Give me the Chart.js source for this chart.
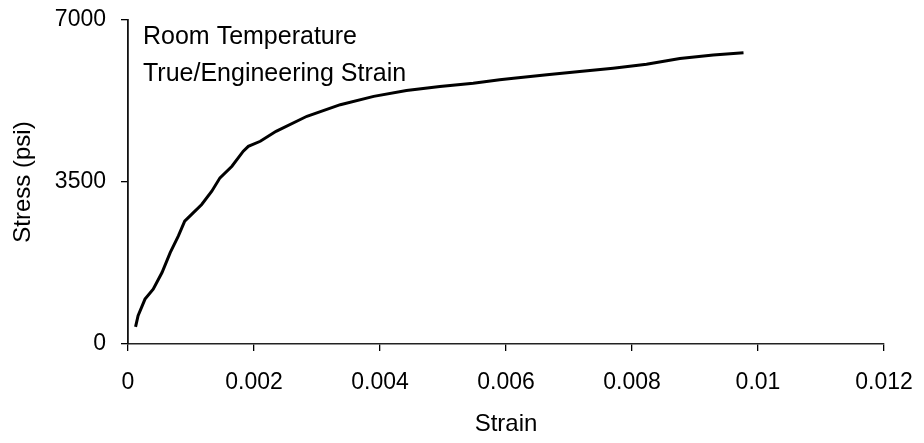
<!DOCTYPE html>
<html>
<head>
<meta charset="utf-8">
<title>Stress vs Strain</title>
<script src="https://cdn.jsdelivr.net/npm/chart.js@4.4.0/dist/chart.umd.min.js"></script>
<style>
  html, body { margin: 0; padding: 0; background: #fff; }
  #wrap { width: 924px; height: 443px; }
</style>
</head>
<body>
<div id="wrap"><canvas id="stressChart" width="924" height="443"></canvas></div>
<script>
// data
const strain = [0.00012, 0.00016, 0.00027, 0.0004, 0.00054, 0.00067, 0.0008, 0.0009,
  0.00101, 0.00117, 0.00133, 0.00146, 0.00165, 0.00183, 0.00191, 0.0021, 0.00235,
  0.00284, 0.00337, 0.0039, 0.00442, 0.00495, 0.00548, 0.0059, 0.00612, 0.00665,
  0.00717, 0.0077, 0.00823, 0.00876, 0.00929, 0.00977];
const stress = [370, 610, 970, 1185, 1545, 1975, 2335, 2655,
  2800, 3015, 3300, 3590, 3840, 4165, 4270, 4380, 4595,
  4920, 5170, 5350, 5475, 5565, 5635, 5710, 5740, 5815,
  5885, 5960, 6045, 6170, 6245, 6295];

const xTicks = [0, 0.002, 0.004, 0.006, 0.008, 0.01, 0.012];
const yTicks = [0, 3500, 7000];
const noteLines = ['Room Temperature', 'True/Engineering Strain'];

const FONT = "'Liberation Sans', Arial, sans-serif";
Chart.defaults.font.family = FONT;
Chart.defaults.color = '#000';

/* text box in the upper left of the plot */
const notePlugin = {
  id: 'note',
  afterDraw(chart) {
    const { ctx, chartArea } = chart;
    ctx.save();
    ctx.font = '25px ' + FONT;
    ctx.fillStyle = '#000';
    ctx.textBaseline = 'middle';
    noteLines.forEach((t, i) => {
      ctx.fillText(t, chartArea.left + 15, chartArea.top + 17 + i * 37);
    });
    ctx.restore();
  }
};

const ctx = document.getElementById('stressChart').getContext('2d');

new Chart(ctx, {
  type: 'line',
  data: {
    datasets: [{
      data: strain.map((x, i) => ({ x: x, y: stress[i] })),
      borderColor: '#000',
      borderWidth: 3,
      pointRadius: 0,
      tension: 0,
      fill: false
    }]
  },
  options: {
    responsive: false,
    animation: false,
    layout: { padding: { top: 20, right: 40, left: 0, bottom: 0 } },
    plugins: {
      legend: { display: false },
      tooltip: { enabled: false }
    },
    scales: {
      x: {
        type: 'linear',
        min: xTicks[0],
        max: xTicks[xTicks.length - 1],
        afterBuildTicks: s => { s.ticks = xTicks.map(v => ({ value: v })); },
        afterFit: s => {
          s.height = 99;
          s.paddingLeft = 0;
          s.paddingRight = 0;
        },
        ticks: {
          font: { size: 23 },
          padding: 18,
          maxRotation: 0,
          callback: v => String(+v.toFixed(4))
        },
        grid: { drawOnChartArea: false, drawTicks: true, tickLength: 7, color: '#000', lineWidth: 1.3 },
        border: { display: true, color: '#222', width: 1.5 },
        title: {
          display: true,
          text: 'Strain',
          font: { size: 24 },
          padding: { top: 0, bottom: 4 }
        }
      },
      y: {
        type: 'linear',
        min: yTicks[0],
        max: yTicks[yTicks.length - 1],
        afterBuildTicks: s => { s.ticks = yTicks.map(v => ({ value: v })); },
        afterFit: s => {
          s.width = 128;
          s.paddingTop = 0;
          s.paddingBottom = 0;
        },
        ticks: {
          font: { size: 23 },
          padding: 15,
          callback: v => String(v)
        },
        grid: { drawOnChartArea: false, drawTicks: true, tickLength: 7, color: '#000', lineWidth: 1.3 },
        border: { display: true, color: '#111', width: 1.8 },
        title: {
          display: true,
          text: 'Stress (psi)',
          font: { size: 24 },
          padding: { top: 9, bottom: 0 }
        }
      }
    }
  },
  plugins: [notePlugin]
});
</script>
</body>
</html>
